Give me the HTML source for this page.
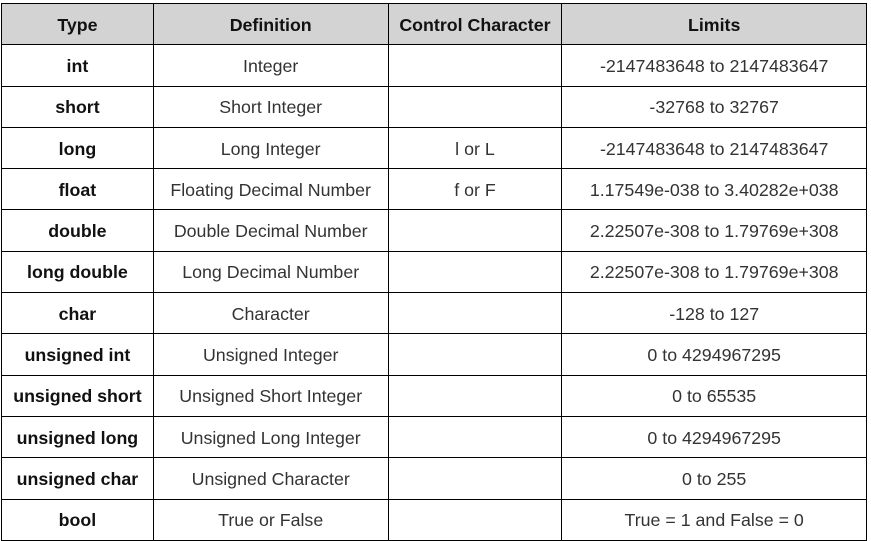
<!DOCTYPE html><html><head><style>
body{margin:0;width:871px;height:541px;background:#fff;font-family:"Liberation Sans",Arial,sans-serif;position:relative;overflow:hidden}
table{position:absolute;left:1px;top:3px;border-collapse:collapse;width:866px;height:537px}
tr{height:41.3px}
td{border:1px solid #000;padding:2px 0 0 0;text-align:center;font-size:17.8px;color:#333}
td:first-child{font-weight:bold;color:#111}
tr:first-child td{background:#d3d3d3;font-weight:bold;color:#111}
</style></head><body>
<table>
<colgroup><col style="width:152px"><col style="width:235px"><col style="width:174px"><col style="width:305px"></colgroup>
<tr><td>Type</td><td>Definition</td><td>Control Character</td><td>Limits</td></tr>
<tr><td>int</td><td>Integer</td><td></td><td>-2147483648 to 2147483647</td></tr>
<tr><td>short</td><td>Short Integer</td><td></td><td>-32768 to 32767</td></tr>
<tr><td>long</td><td>Long Integer</td><td>l or L</td><td>-2147483648 to 2147483647</td></tr>
<tr><td>float</td><td>Floating Decimal Number</td><td>f or F</td><td>1.17549e-038 to 3.40282e+038</td></tr>
<tr><td>double</td><td>Double Decimal Number</td><td></td><td>2.22507e-308 to 1.79769e+308</td></tr>
<tr><td>long double</td><td>Long Decimal Number</td><td></td><td>2.22507e-308 to 1.79769e+308</td></tr>
<tr><td>char</td><td>Character</td><td></td><td>-128 to 127</td></tr>
<tr><td>unsigned int</td><td>Unsigned Integer</td><td></td><td>0 to 4294967295</td></tr>
<tr><td>unsigned short</td><td>Unsigned Short Integer</td><td></td><td>0 to 65535</td></tr>
<tr><td>unsigned long</td><td>Unsigned Long Integer</td><td></td><td>0 to 4294967295</td></tr>
<tr><td>unsigned char</td><td>Unsigned Character</td><td></td><td>0 to 255</td></tr>
<tr><td>bool</td><td>True or False</td><td></td><td>True = 1 and False = 0</td></tr>
</table>
</body></html>
